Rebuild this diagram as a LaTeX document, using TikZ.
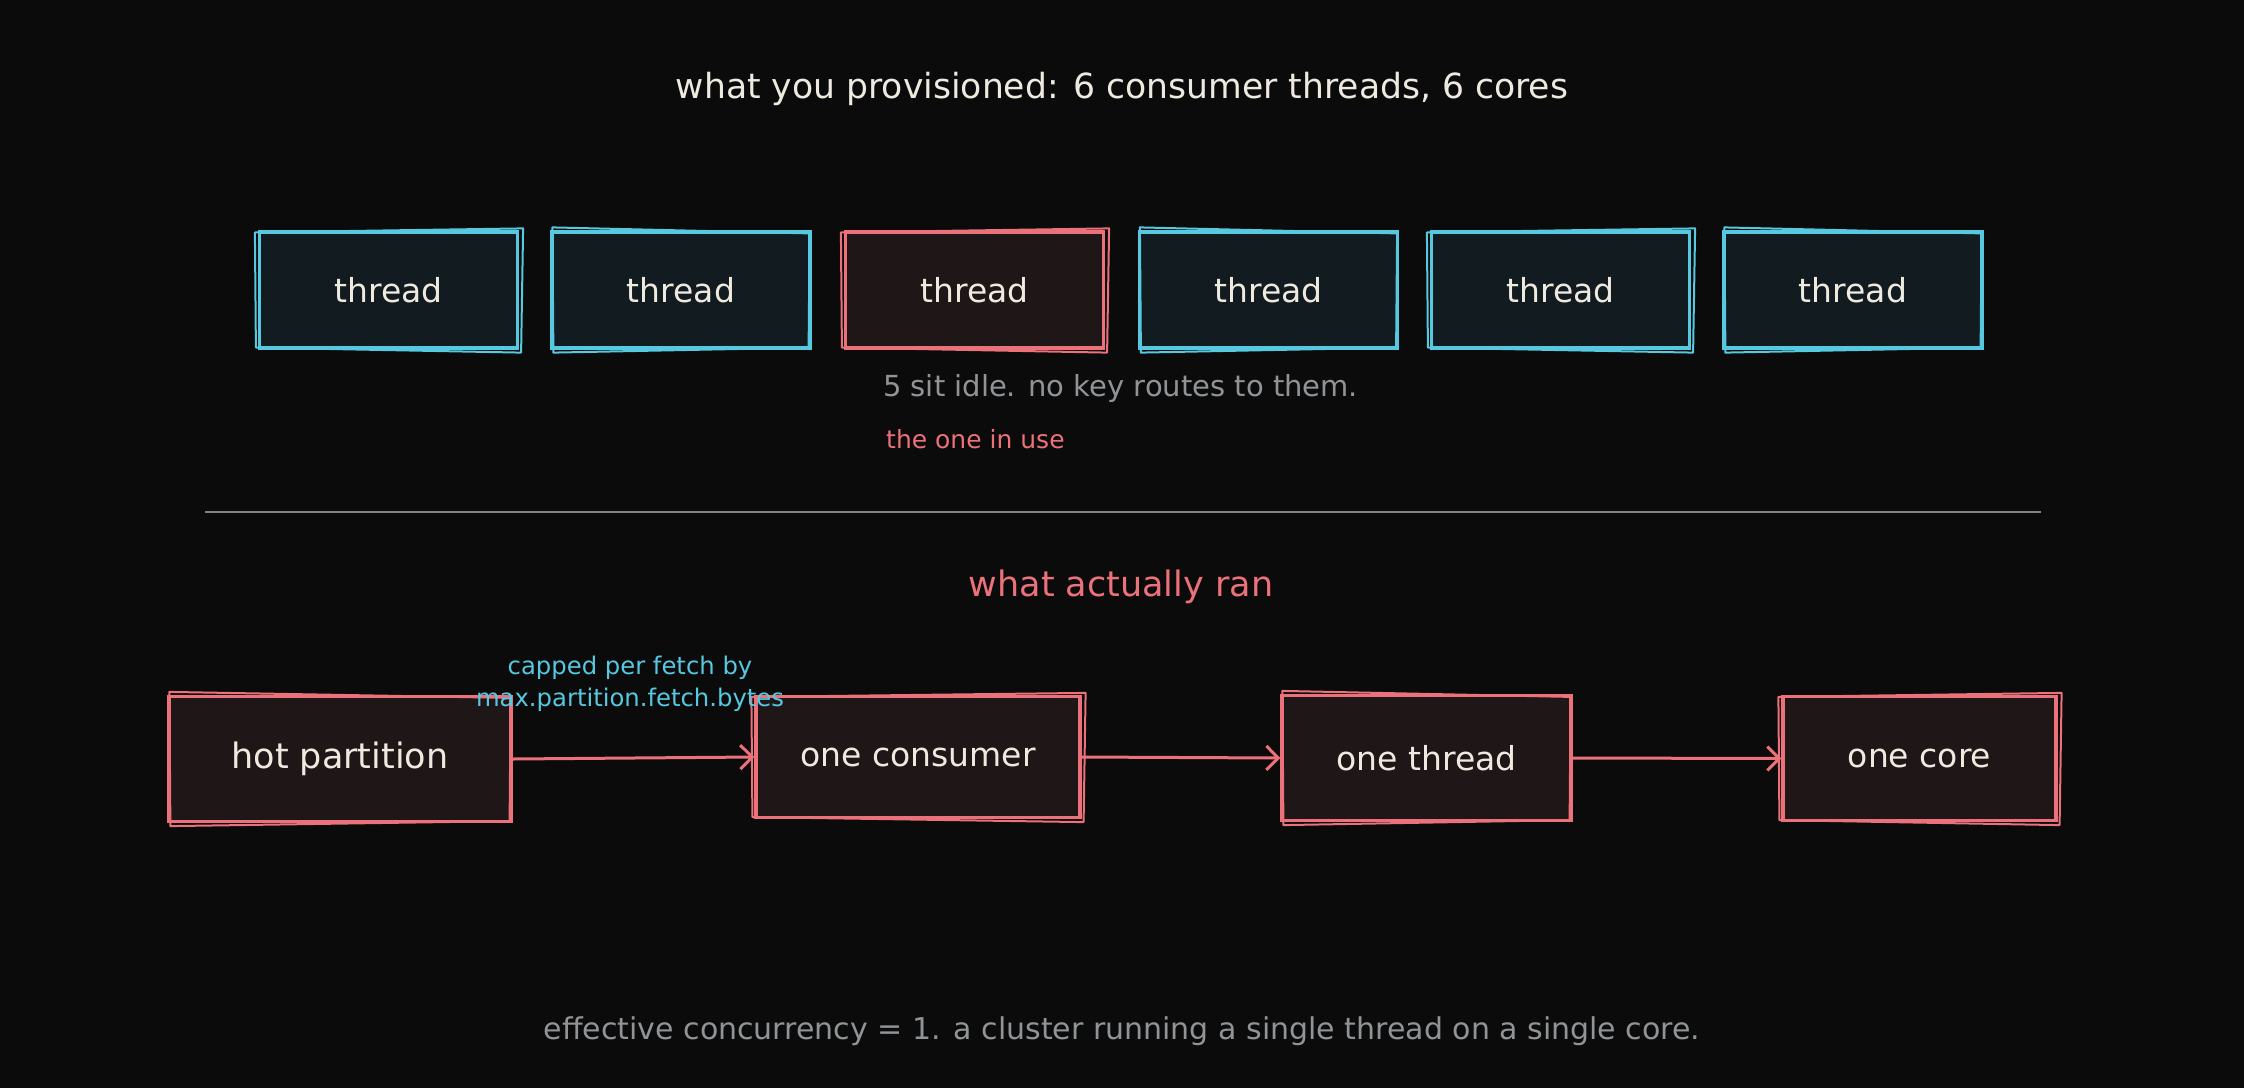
\documentclass[tikz,border=0pt]{standalone}
\usepackage{fontspec}
\setmainfont{DejaVu Sans}
\usetikzlibrary{arrows.meta}
\definecolor{bg}{RGB}{11,11,11}
\definecolor{cy}{RGB}{86,200,224}
\definecolor{rd}{RGB}{235,113,122}
\definecolor{cyfill}{RGB}{18,27,31}
\definecolor{rdfill}{RGB}{31,22,24}
\definecolor{wt}{RGB}{238,234,224}
\definecolor{gy}{RGB}{145,148,150}
\definecolor{ln}{RGB}{130,130,130}
\newcommand{\roughA}[2]{\draw[#2,line width=2pt,line join=round] ([shift={(-3,2)}]#1.north west) -- ([shift={(4,-2)}]#1.north east) -- ([shift={(2,3)}]#1.south east) -- ([shift={(-2,-2)}]#1.south west) -- cycle;}
\newcommand{\roughB}[2]{\draw[#2,line width=2pt,line join=round] ([shift={(2,-3)}]#1.north west) -- ([shift={(-2,3)}]#1.north east) -- ([shift={(-3,-2)}]#1.south east) -- ([shift={(3,3)}]#1.south west) -- cycle;}
\begin{document}
\begin{tikzpicture}[x=1pt,y=-1pt,
  cbox/.style={draw=cy, fill=cyfill, line width=3.2pt, minimum width=258pt, minimum height=116pt, inner sep=0pt, text=wt, font=\fontsize{33}{38}\selectfont},
  rbox/.style={cbox, draw=rd, fill=rdfill},
  bbox/.style={rbox, font=\fontsize{33}{38}\selectfont},
  flow/.style={draw=rd, line width=3pt, -{Straight Barb[length=12pt,width=24pt]}},
  lbl/.style={inner sep=0pt, font=\fontsize{#1}{#1}\selectfont},
]
\fill[bg] (0,0) rectangle (2244,1088);
\useasboundingbox (0,0) rectangle (2244,1088);

\node[lbl=34.6, text=wt] (title) at (1122,89) {what you provisioned: 6 consumer threads, 6 cores};

\node[cbox] (t1) at (388.5,290) {thread};
\node[cbox] (t2) at (681,290) {thread};
\node[rbox] (t3) at (974.5,290) {thread};
\node[cbox] (t4) at (1268.5,290) {thread};
\node[cbox] (t5) at (1560.5,290) {thread};
\node[cbox] (t6) at (1853,290) {thread};
\roughA{t1}{cy}
\roughB{t2}{cy}
\roughA{t3}{rd}
\roughB{t4}{cy}
\roughA{t5}{cy}
\roughB{t6}{cy}

\node[lbl=29, text=gy, anchor=west] (idle) at (883,388) {5 sit idle. no key routes to them.};
\node[lbl=25, text=rd, anchor=west] (inuse) at (886,439) {the one in use};

\coordinate (dl) at (205,512);
\coordinate (dr) at (2041,512);
\draw[ln, line width=1.6pt] (dl) -- (dr);

\node[lbl=35, text=rd] (ran) at (1121,587) {what actually ran};

\node[bbox, minimum width=342pt, minimum height=125pt, font=\fontsize{35}{40}\selectfont] (hot) at (340,759) {hot partition};
\node[bbox, minimum width=324pt, minimum height=121pt] (cons) at (918,757) {one consumer};
\node[bbox, minimum width=289pt, minimum height=125pt] (thr) at (1426.5,758) {one thread};
\node[bbox, minimum width=273pt, minimum height=124pt] (core) at (1919.5,758.5) {one core};
\roughB{hot}{rd}
\roughA{cons}{rd}
\roughB{thr}{rd}
\roughA{core}{rd}

\draw[flow] (hot.east) -- (cons.west);
\draw[flow] (cons.east) -- (thr.west);
\draw[flow] (thr.east) -- (core.west);

\node[lbl=24.3, text=cy] (cap1) at (630,668) {capped per fetch by};
\node[lbl=24.3, text=cy] (cap2) at (630,700) {max.partition.fetch.bytes};

\node[lbl=30, text=gy] (bottom) at (1122,1031) {effective concurrency = 1. a cluster running a single thread on a single core.};
\end{tikzpicture}
\end{document}
